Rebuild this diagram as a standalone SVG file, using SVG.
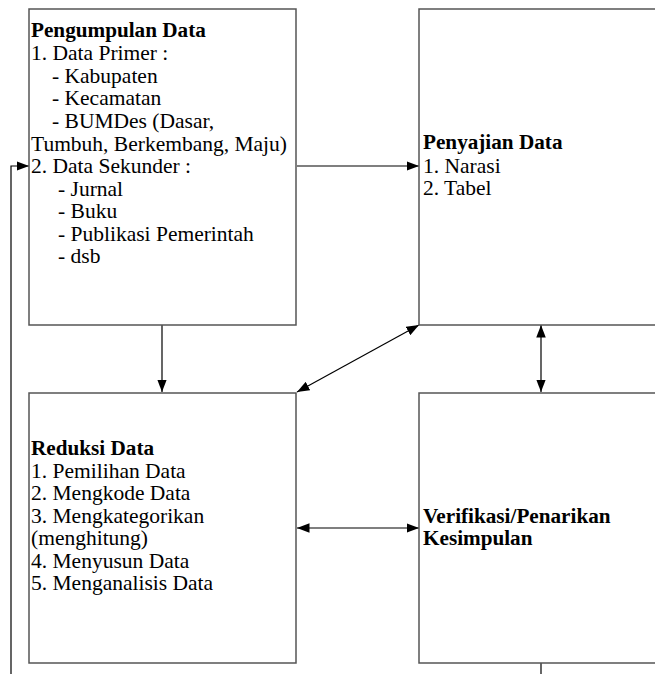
<svg xmlns="http://www.w3.org/2000/svg" width="655" height="674" viewBox="0 0 655 674" font-family="Liberation Serif, Times New Roman, serif" font-size="21.5">
<style>
.box{fill:#fff;stroke:#555;stroke-width:1.5}
.c{fill:none;stroke:#000;stroke-width:1.2}
.h{font-weight:bold;font-size:21.2px}
</style>
<defs>
<marker id="ah" markerUnits="userSpaceOnUse" markerWidth="13" markerHeight="10" refX="12.5" refY="4.75" orient="auto-start-reverse">
<path d="M0,0 L12.5,4.75 L0,9.5 z" fill="#000"/>
</marker>
</defs>
<rect width="655" height="674" fill="#fff"/>
<g id="connectors">
<line class="c" x1="297" y1="166" x2="419" y2="166" marker-end="url(#ah)"/>
<line class="c" x1="162" y1="325" x2="162" y2="392" marker-end="url(#ah)"/>
<line class="c" x1="419" y1="325" x2="297" y2="392" marker-start="url(#ah)" marker-end="url(#ah)"/>
<line class="c" x1="541" y1="325" x2="541" y2="392" marker-start="url(#ah)" marker-end="url(#ah)"/>
<line class="c" x1="297" y1="528" x2="419" y2="528" marker-start="url(#ah)" marker-end="url(#ah)"/>
<polyline class="c" points="11,680 11,166 29,166" marker-end="url(#ah)"/>
<line class="c" x1="541" y1="663" x2="541" y2="680"/>
</g>
<g id="pengumpulan">
<rect class="box" x="29" y="9" width="267" height="316"/>
<text class="h" x="31" y="37">Pengumpulan Data</text>
<text x="31" y="60">1. Data Primer :</text>
<text x="52" y="82.5">- Kabupaten</text>
<text x="52" y="105">- Kecamatan</text>
<text x="52" y="128">- BUMDes (Dasar,</text>
<text x="31" y="150.5">Tumbuh, Berkembang, Maju)</text>
<text x="31" y="173">2. Data Sekunder :</text>
<text x="58" y="195.5">- Jurnal</text>
<text x="58" y="218">- Buku</text>
<text x="58" y="240.5">- Publikasi Pemerintah</text>
<text x="58" y="263">- dsb</text>
</g>
<g id="penyajian">
<rect class="box" x="419" y="9" width="245" height="316"/>
<text class="h" x="423" y="149">Penyajian Data</text>
<text x="423" y="172.5">1. Narasi</text>
<text x="423" y="195">2. Tabel</text>
</g>
<g id="reduksi">
<rect class="box" x="29" y="393" width="267" height="270"/>
<text class="h" x="31" y="455">Reduksi Data</text>
<text x="31" y="477.5">1. Pemilihan Data</text>
<text x="31" y="500">2. Mengkode Data</text>
<text x="31" y="522.5">3. Mengkategorikan</text>
<text x="31" y="545">(menghitung)</text>
<text x="31" y="568">4. Menyusun Data</text>
<text x="31" y="590">5. Menganalisis Data</text>
</g>
<g id="verifikasi">
<rect class="box" x="419" y="393" width="245" height="270"/>
<text class="h" x="423" y="522.5">Verifikasi/Penarikan</text>
<text class="h" x="423" y="545">Kesimpulan</text>
</g>
</svg>
